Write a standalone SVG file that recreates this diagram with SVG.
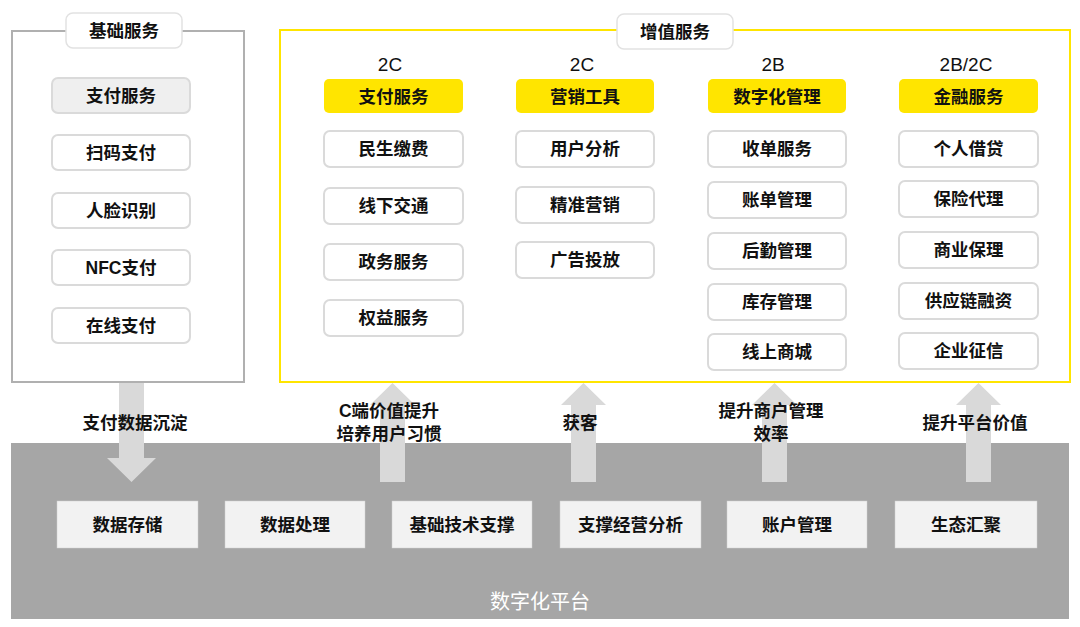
<svg xmlns="http://www.w3.org/2000/svg" width="1080" height="627" viewBox="0 0 1080 627">
<style>
text{font-family:"Liberation Sans","Noto Sans CJK SC",sans-serif;font-size:17.5px;fill:#111;text-anchor:middle;dominant-baseline:central;font-weight:600}
.item{fill:#fff;stroke:#dadada;stroke-width:2}
.hl{fill:#ffe500}
.title{fill:#fff;stroke:#e2e2e2;stroke-width:1.5}
.base{fill:#f2f2f2;stroke:#d0d0d0;stroke-width:0.5}
.arrow{fill:#d9d9d9}
.hd{font-size:19px;font-weight:500}
</style>
<rect x="0" y="0" width="1080" height="627" fill="#fff"/>
<g id="platform">
<rect x="11" y="443" width="1058" height="176" fill="#a6a6a6"/>
<text x="540" y="602" style="fill:#fff;font-size:20px;font-weight:400">数字化平台</text>
</g>
<g id="connectors">
<polygon class="arrow" points="119,383 144,383 144,458 156,458 131.5,482 107,458 119,458"/>
<polygon class="arrow" points="380,482 405,482 405,405 415,405 392.5,383 370,405 380,405"/>
<polygon class="arrow" points="571,482 596,482 596,405 606,405 583.5,383 561,405 571,405"/>
<polygon class="arrow" points="762,482 787,482 787,405 797,405 774.5,383 752,405 762,405"/>
<polygon class="arrow" points="966,482 991,482 991,405 1001,405 978.5,383 956,405 966,405"/>
<text x="135" y="423">支付数据沉淀</text>
<text x="389" y="411">C端价值提升</text>
<text x="389" y="434">培养用户习惯</text>
<text x="580" y="423">获客</text>
<text x="771" y="411">提升商户管理</text>
<text x="771" y="434">效率</text>
<text x="975" y="423">提升平台价值</text>
</g>
<g id="basic">
<rect x="12" y="31" width="232" height="351" fill="none" stroke="#b0b0b0" stroke-width="2"/>
<rect class="title" x="66" y="13" width="116" height="35" rx="7"/>
<text x="124" y="31">基础服务</text>
<rect x="52" y="78" width="138" height="35" rx="6" fill="#efefef" stroke="#dadada" stroke-width="2"/>
<text x="121" y="96">支付服务</text>
<rect class="item" x="52" y="135" width="138" height="35" rx="6"/><text x="121" y="153">扫码支付</text>
<rect class="item" x="52" y="193" width="138" height="35" rx="6"/><text x="121" y="211">人脸识别</text>
<rect class="item" x="52" y="250" width="138" height="35" rx="6"/><text x="121" y="268">NFC支付</text>
<rect class="item" x="52" y="308" width="138" height="35" rx="6"/><text x="121" y="326">在线支付</text>
</g>
<g id="value-added">
<rect x="280" y="30" width="790" height="352" fill="none" stroke="#ffe500" stroke-width="2"/>
<rect class="title" x="617" y="14" width="116" height="35" rx="7"/>
<text x="675" y="32">增值服务</text>
</g>
<g id="col-2c-pay">
<text class="hd" x="390" y="64">2C</text>
<rect class="hl" x="324" y="79" width="139" height="34" rx="5"/><text x="393.5" y="97">支付服务</text>
<rect class="item" x="324" y="131" width="139" height="36" rx="6"/><text x="393.5" y="149">民生缴费</text>
<rect class="item" x="324" y="188" width="139" height="36" rx="6"/><text x="393.5" y="206">线下交通</text>
<rect class="item" x="324" y="244" width="139" height="36" rx="6"/><text x="393.5" y="262">政务服务</text>
<rect class="item" x="324" y="300" width="139" height="36" rx="6"/><text x="393.5" y="318">权益服务</text>
</g>
<g id="col-2c-mkt">
<text class="hd" x="582" y="64">2C</text>
<rect class="hl" x="516" y="79" width="138" height="34" rx="5"/><text x="585" y="97">营销工具</text>
<rect class="item" x="516" y="131" width="138" height="36" rx="6"/><text x="585" y="149">用户分析</text>
<rect class="item" x="516" y="187" width="138" height="36" rx="6"/><text x="585" y="205">精准营销</text>
<rect class="item" x="516" y="242" width="138" height="36" rx="6"/><text x="585" y="260">广告投放</text>
</g>
<g id="col-2b">
<text class="hd" x="773" y="64">2B</text>
<rect class="hl" x="708" y="79" width="138" height="34" rx="5"/><text x="777" y="97">数字化管理</text>
<rect class="item" x="708" y="131" width="138" height="36" rx="6"/><text x="777" y="149">收单服务</text>
<rect class="item" x="708" y="182" width="138" height="36" rx="6"/><text x="777" y="200">账单管理</text>
<rect class="item" x="708" y="233" width="138" height="36" rx="6"/><text x="777" y="251">后勤管理</text>
<rect class="item" x="708" y="284" width="138" height="36" rx="6"/><text x="777" y="302">库存管理</text>
<rect class="item" x="708" y="334" width="138" height="36" rx="6"/><text x="777" y="352">线上商城</text>
</g>
<g id="col-2b2c">
<text class="hd" x="966" y="64">2B/2C</text>
<rect class="hl" x="899" y="79" width="139" height="34" rx="5"/><text x="968.5" y="97">金融服务</text>
<rect class="item" x="899" y="131" width="139" height="36" rx="6"/><text x="968.5" y="149">个人借贷</text>
<rect class="item" x="899" y="181" width="139" height="36" rx="6"/><text x="968.5" y="199">保险代理</text>
<rect class="item" x="899" y="232" width="139" height="36" rx="6"/><text x="968.5" y="250">商业保理</text>
<rect class="item" x="899" y="283" width="139" height="36" rx="6"/><text x="968.5" y="301">供应链融资</text>
<rect class="item" x="899" y="333" width="139" height="36" rx="6"/><text x="968.5" y="351">企业征信</text>
</g>
<g id="base-boxes">
<rect class="base" x="57" y="501" width="141" height="47"/><text x="127.5" y="525">数据存储</text>
<rect class="base" x="225" y="501" width="140" height="47"/><text x="295" y="525">数据处理</text>
<rect class="base" x="392" y="501" width="140" height="47"/><text x="462" y="525">基础技术支撑</text>
<rect class="base" x="560" y="501" width="141" height="47"/><text x="630.5" y="525">支撑经营分析</text>
<rect class="base" x="727" y="501" width="140" height="47"/><text x="797" y="525">账户管理</text>
<rect class="base" x="895" y="501" width="142" height="47"/><text x="966" y="525">生态汇聚</text>
</g>
</svg>
